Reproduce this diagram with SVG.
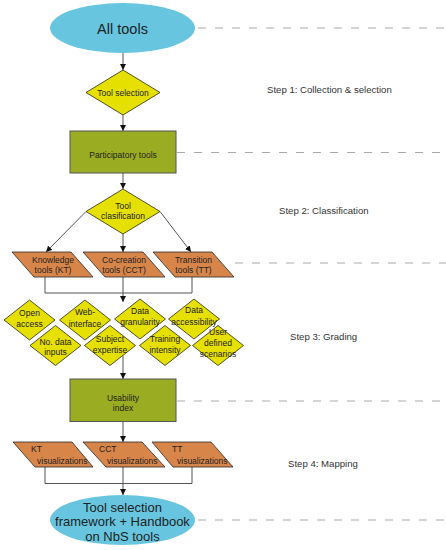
<svg xmlns="http://www.w3.org/2000/svg" width="446" height="550" viewBox="0 0 446 550">
<defs>
<marker id="ah" viewBox="0 0 10 10" refX="10" refY="5" markerWidth="6" markerHeight="6" markerUnits="userSpaceOnUse" orient="auto">
<path d="M0,0 L10,5 L0,10 z" fill="#111"/>
</marker>
<style>
.oval{fill:#67c5e0;stroke:none}
.dia{fill:#e6e000;stroke:#2a2a1a;stroke-width:0.8}
.box{fill:#9aad22;stroke:#555;stroke-width:1}
.par{fill:#d8854a;stroke:#2a2a2a;stroke-width:0.8}
.t{font-family:"Liberation Sans",Arial,sans-serif;font-size:8.5px;fill:#222;text-anchor:middle}
.ts{font-family:"Liberation Sans",Arial,sans-serif;font-size:8.5px;fill:#222;text-anchor:start}
.big{font-family:"Liberation Sans",Arial,sans-serif;fill:#222;text-anchor:middle}
.step{font-family:"Liberation Sans",Arial,sans-serif;font-size:9.6px;fill:#333}
.dash{stroke:#aaa;stroke-width:1;stroke-dasharray:8 9;fill:none}
.ln{stroke:#555;stroke-width:1;fill:none}
.arr{stroke:#555;stroke-width:1;fill:none;marker-end:url(#ah)}
</style>
</defs>
<rect width="446" height="550" fill="#fff"/>
<g id="guides">
<line class="dash" x1="198" y1="28" x2="446" y2="28"/>
<line class="dash" x1="177" y1="152.5" x2="446" y2="152.5"/>
<line class="dash" x1="235" y1="263" x2="446" y2="263"/>
<line class="dash" x1="177" y1="401" x2="446" y2="401"/>
<line class="dash" x1="198" y1="520" x2="446" y2="520"/>
</g>
<g id="steps">
<text class="step" x="267" y="92.5">Step 1: Collection &amp; selection</text>
<text class="step" x="279" y="214">Step 2: Classification</text>
<text class="step" x="290" y="340">Step 3: Grading</text>
<text class="step" x="288" y="466.5">Step 4: Mapping</text>
</g>
<g id="connectors">
<line class="arr" x1="123" y1="53" x2="123" y2="70"/>
<line class="arr" x1="123" y1="115" x2="123" y2="131"/>
<line class="arr" x1="123" y1="173" x2="123" y2="189"/>
<line class="arr" x1="86" y1="211.5" x2="46" y2="252"/>
<line class="arr" x1="123" y1="234" x2="123" y2="252"/>
<line class="arr" x1="160" y1="211.5" x2="191" y2="252"/>
<polyline class="ln" points="45,277 45,293 192,293 192,277"/>
<line class="ln" x1="123" y1="277" x2="123" y2="293"/>
<line class="arr" x1="123" y1="293" x2="123" y2="302"/>
<line class="arr" x1="123" y1="355.5" x2="123" y2="379"/>
<line class="arr" x1="123" y1="421.5" x2="123" y2="442"/>
<polyline class="ln" points="45,467 45,483.5 192,483.5 192,467"/>
<line class="ln" x1="123" y1="467" x2="123" y2="483.5"/>
<line class="arr" x1="123" y1="483.5" x2="123" y2="495"/>
</g>
<g id="all-tools">
<ellipse class="oval" cx="122.5" cy="28" rx="72.5" ry="25"/>
<text class="big" x="122.5" y="33.5" font-size="14.5">All tools</text>
</g>
<g id="tool-selection">
<polygon class="dia" points="123,70 160,92.5 123,115 86,92.5"/>
<text class="t" x="123" y="95.7">Tool selection</text>
</g>
<g id="participatory-tools">
<rect class="box" x="70" y="131" width="106" height="42"/>
<text class="t" x="123" y="158">Participatory tools</text>
</g>
<g id="tool-clasification">
<polygon class="dia" points="123,189 160,211.5 123,234 86,211.5"/>
<text class="t" x="123" y="208.7">Tool</text>
<text class="t" x="123" y="219">clasification</text>
</g>
<g id="kt">
<polygon class="par" points="12,252 71,252 93,277 34,277"/>
<text class="t" x="53" y="263.3">Knowledge</text>
<text class="t" x="53" y="273.3">tools (KT)</text>
</g>
<g id="cct">
<polygon class="par" points="83,252 143,252 165,277 105,277"/>
<text class="t" x="124" y="263.3">Co-creation</text>
<text class="t" x="124" y="273.3">tools (CCT)</text>
</g>
<g id="tt">
<polygon class="par" points="153,252 212,252 234,277 175,277"/>
<text class="t" x="193.5" y="263.3">Transition</text>
<text class="t" x="193.5" y="273.3">tools (TT)</text>
</g>
<g id="open-access">
<polygon class="dia" points="29.5,300 55,320 29.5,340 4,320"/>
<text class="t" x="29.5" y="316.3">Open</text>
<text class="t" x="29.5" y="327">access</text>
</g>
<g id="web-interface">
<polygon class="dia" points="85,300 110.5,320 85,340 59.5,320"/>
<text class="t" x="85" y="314.7">Web-</text>
<text class="t" x="85" y="327">interface</text>
</g>
<g id="data-granularity">
<polygon class="dia" points="140,299 165.5,319 140,339 114.5,319"/>
<text class="t" x="140" y="314">Data</text>
<text class="t" x="140" y="324.7">granularity</text>
</g>
<g id="data-accessibility">
<polygon class="dia" points="194,299 219.5,319 194,339 168.5,319"/>
<text class="t" x="194" y="313.3">Data</text>
<text class="t" x="194" y="324.7">accessibility</text>
</g>
<g id="no-data-inputs">
<polygon class="dia" points="55.5,325.5 81,345.5 55.5,365.5 30,345.5"/>
<text class="t" x="55.5" y="344.7">No. data</text>
<text class="t" x="55.5" y="355.3">inputs</text>
</g>
<g id="subject-expertise">
<polygon class="dia" points="110,325.5 135.5,345.5 110,365.5 84.5,345.5"/>
<text class="t" x="110" y="342.3">Subject</text>
<text class="t" x="110" y="353">expertise</text>
</g>
<g id="training-intensity">
<polygon class="dia" points="165,325.5 190.5,345.5 165,365.5 139.5,345.5"/>
<text class="t" x="165" y="342.3">Training</text>
<text class="t" x="165" y="353">intensity</text>
</g>
<g id="user-defined-scenarios">
<polygon class="dia" points="218,325.5 243.5,345.5 218,365.5 192.5,345.5"/>
<text class="t" x="218" y="335.3">User</text>
<text class="t" x="218" y="346.3">defined</text>
<text class="t" x="218" y="357">scenarios</text>
</g>
<g id="usability-index">
<rect class="box" x="70" y="379" width="106" height="42.5"/>
<text class="t" x="123" y="400.7">Usability</text>
<text class="t" x="123" y="411">index</text>
</g>
<g id="kt-vis">
<polygon class="par" points="13,442 72,442 93,467 35,467"/>
<text class="ts" x="31" y="452">KT</text>
<text class="ts" x="37" y="463.5">visualizations</text>
</g>
<g id="cct-vis">
<polygon class="par" points="83,442 142,442 165,467 106,467"/>
<text class="ts" x="99" y="452">CCT</text>
<text class="ts" x="107" y="463.5">visualizations</text>
</g>
<g id="tt-vis">
<polygon class="par" points="152,442 211,442 233,467 173,467"/>
<text class="ts" x="172" y="452">TT</text>
<text class="ts" x="177" y="463.5">visualizations</text>
</g>
<g id="framework">
<ellipse class="oval" cx="122.5" cy="520" rx="72.5" ry="25"/>
<text class="big" x="122.5" y="511.5" font-size="13">Tool selection</text>
<text class="big" x="122.5" y="526" font-size="13">framework + Handbook</text>
<text class="big" x="122.5" y="541" font-size="13">on NbS tools</text>
</g>
</svg>
